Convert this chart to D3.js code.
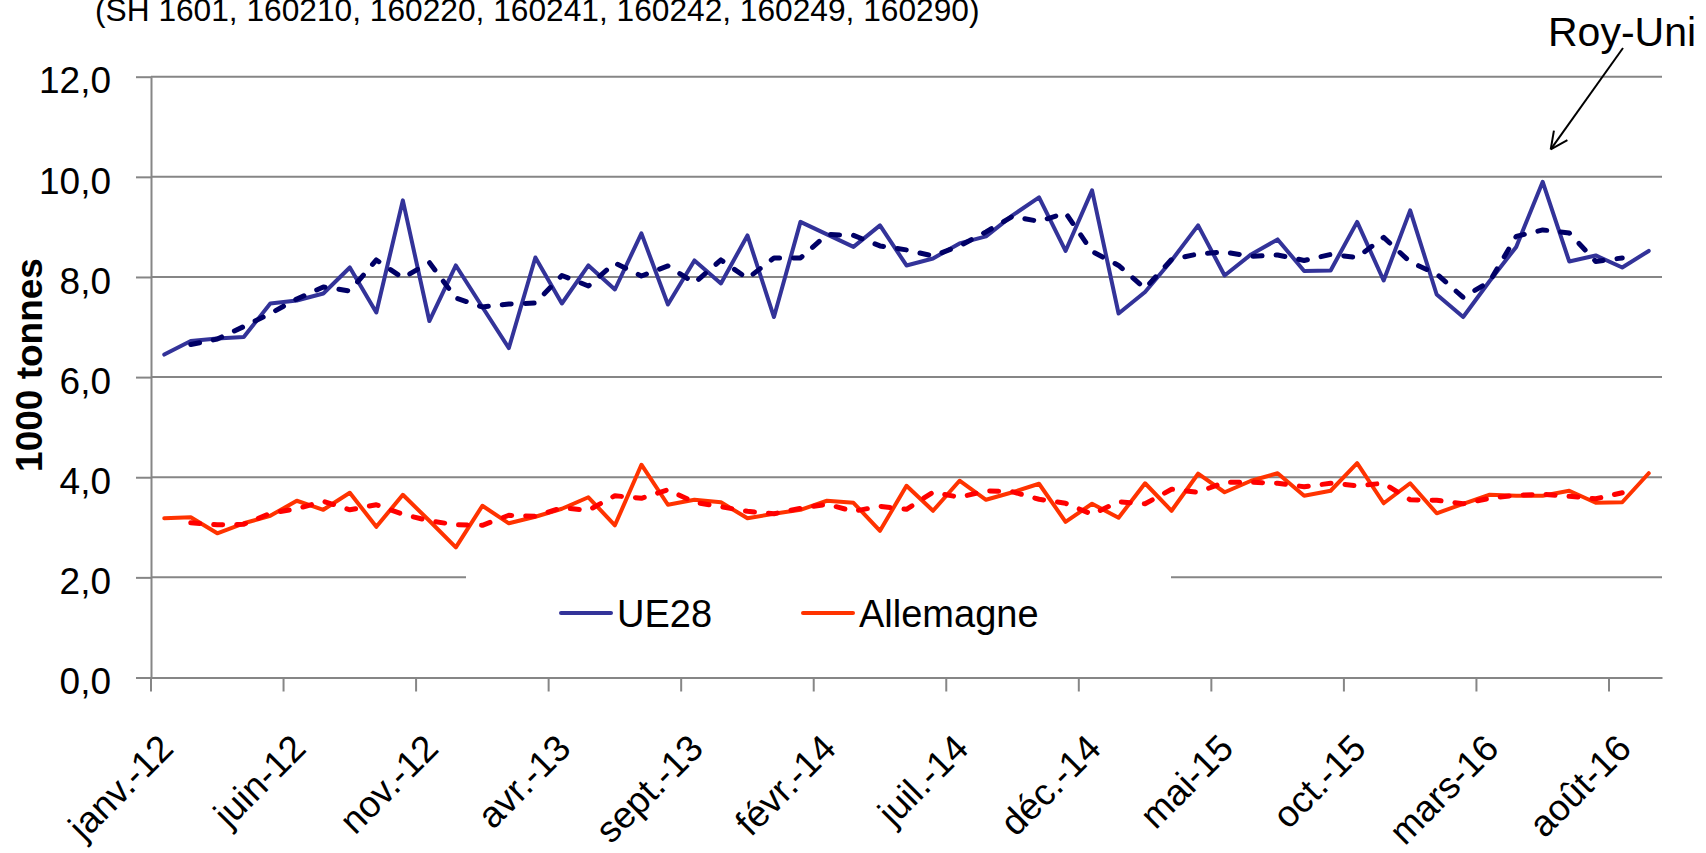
<!DOCTYPE html>
<html>
<head>
  <meta charset="utf-8">
  <title>UE28 / Allemagne</title>
  <script src="https://d3js.org/d3.v7.min.js"></script>
<style>
    body { margin: 0; background: #fff; }
    text { font-family: "Liberation Sans", Arial, sans-serif; }
    </style>
  </head>
<body>
<div id="chart">
  <script>
// month names, the category axis runs janv.-12 .. sept.-16
var monthNames = ["janv.", "févr.", "mars", "avr.", "mai", "juin", "juil.", "août", "sept.", "oct.", "nov.", "déc."];
var years = ["12", "13", "14", "15", "16"];
var categories = [];
years.forEach(function(yy) {
  monthNames.forEach(function(m) {
    if (categories.length < 57) categories.push(m + "-" + yy);
  });
});

// tick labels shown every 5 months
var tickLabels = ["janv.-12", "juin-12", "nov.-12", "avr.-13", "sept.-13", "févr.-14",
                  "juil.-14", "déc.-14", "mai-15", "oct.-15", "mars-16", "août-16"];
var yTicks = [0, 2, 4, 6, 8, 10, 12];

// 1000 tonnes
var ue28 = [6.45, 6.72, 6.77, 6.80, 7.47, 7.53, 7.67, 8.19, 7.29, 9.53,
            7.12, 8.23, 7.40, 6.58, 8.39, 7.47, 8.23, 7.75, 8.87, 7.45,
            8.33, 7.87, 8.83, 7.20, 9.10, 8.85, 8.60, 9.03, 8.23, 8.37,
            8.67, 8.81, 9.23, 9.59, 8.52, 9.73, 7.27, 7.70, 8.33, 9.03,
            8.03, 8.45, 8.75, 8.12, 8.13, 9.10, 7.93, 9.33, 7.65, 7.20,
            7.92, 8.60, 9.90, 8.31, 8.43, 8.19, 8.52];

var ue28Trend = [null, 6.65, 6.76, 7.01, 7.27, 7.56, 7.80, 7.72, 8.34, 7.98,
                 8.29, 7.58, 7.40, 7.46, 7.48, 8.03, 7.82, 8.28, 8.02, 8.22,
                 7.88, 8.34, 7.97, 8.38, 8.38, 8.85, 8.83, 8.62, 8.54, 8.42,
                 8.62, 8.90, 9.21, 9.11, 9.28, 8.51, 8.23, 7.77, 8.35, 8.46,
                 8.50, 8.41, 8.44, 8.33, 8.45, 8.39, 8.79, 8.30, 8.06, 7.59,
                 7.91, 8.81, 8.94, 8.88, 8.31, 8.38, null];

var allemagne = [3.18, 3.20, 2.88, 3.08, 3.23, 3.53, 3.35, 3.69, 3.01, 3.65,
                 3.13, 2.60, 3.43, 3.08, 3.21, 3.37, 3.60, 3.04, 4.25, 3.45,
                 3.55, 3.50, 3.18, 3.27, 3.35, 3.53, 3.49, 2.93, 3.83, 3.33,
                 3.93, 3.55, 3.70, 3.87, 3.11, 3.47, 3.19, 3.88, 3.33, 4.07,
                 3.70, 3.93, 4.08, 3.63, 3.73, 4.28, 3.48, 3.88, 3.28, 3.47,
                 3.65, 3.63, 3.63, 3.73, 3.49, 3.50, 4.08];

var allemagneTrend = [null, 3.09, 3.05, 3.06, 3.28, 3.37, 3.52, 3.35, 3.45, 3.26,
                      3.13, 3.05, 3.04, 3.24, 3.22, 3.39, 3.34, 3.63, 3.58, 3.75,
                      3.50, 3.41, 3.32, 3.27, 3.38, 3.46, 3.32, 3.42, 3.36, 3.70,
                      3.60, 3.73, 3.71, 3.56, 3.48, 3.26, 3.51, 3.47, 3.76, 3.70,
                      3.90, 3.90, 3.88, 3.81, 3.88, 3.83, 3.88, 3.55, 3.54, 3.47,
                      3.58, 3.64, 3.66, 3.62, 3.57, 3.69, null];

var width = 1706, height = 853;
var plotLeft = 151, plotRight = 1662, plotTop = 76.7, plotBottom = 677.5;

var svg = d3.select("div#chart")
  .append("svg")
    .attr("width", width)
    .attr("height", height);

var x = d3.scaleBand()
  .domain(categories)
  .range([plotLeft, plotRight])
  .padding(0);
var bw = x.bandwidth();

var y = d3.scaleLinear()
  .domain([0, 12])
  .range([plotBottom, plotTop]);

var frFormat = d3.formatLocale({decimal: ",", thousands: " ", grouping: [3], currency: ["", " €"]}).format(".1f");

// title (cut off at the top in the original)
svg.append("text")
  .attr("x", 95)
  .attr("y", 21)
  .style("font-size", "31.7px")
  .text("(SH 1601, 160210, 160220, 160241, 160242, 160249, 160290)");

// gridlines
svg.append("g")
  .selectAll("line")
  .data(yTicks.filter(function(d) { return d > 0; }))
  .enter()
  .append("line")
    .attr("x1", plotLeft)
    .attr("x2", plotRight)
    .attr("y1", function(d) { return y(d); })
    .attr("y2", function(d) { return y(d); })
    .attr("stroke", "#868686")
    .attr("stroke-width", 2);

// y axis
var yAxis = svg.append("g")
  .attr("transform", "translate(" + plotLeft + ",0)")
  .call(d3.axisLeft(y).tickValues(yTicks).tickSize(15).tickSizeOuter(0).tickPadding(25).tickFormat(frFormat));
yAxis.select(".domain").attr("stroke", "#868686").attr("stroke-width", 2);
yAxis.selectAll(".tick line").attr("stroke", "#868686").attr("stroke-width", 2);
yAxis.selectAll("text")
  .attr("dy", "0.44em")
  .attr("fill", "#000")
  .style("font-size", "37px");

// x axis, ticks on the band edges
var xAxis = svg.append("g")
  .attr("transform", "translate(0," + plotBottom + ")")
  .call(d3.axisBottom(x)
    .tickValues(categories.filter(function(d, i) { return i % 5 === 0; }))
    .tickSize(14).tickSizeOuter(0)
    .tickFormat(function(d, i) { return tickLabels[i]; }));
xAxis.select(".domain").attr("stroke", "#868686").attr("stroke-width", 2);
xAxis.selectAll(".tick line")
  .attr("x1", -bw / 2).attr("x2", -bw / 2)
  .attr("stroke", "#868686").attr("stroke-width", 2);
xAxis.selectAll(".tick text")
  .attr("x", 0).attr("y", 0).attr("dy", null)
  .attr("transform", "translate(11,73) rotate(-45)")
  .attr("fill", "#000")
  .style("text-anchor", "end")
  .style("font-size", "37px");

// y axis title
svg.append("text")
  .attr("transform", "translate(42,365) rotate(-90)")
  .style("text-anchor", "middle")
  .style("font-size", "37px")
  .style("font-weight", "bold")
  .text("1000 tonnes");

// legend box hides the 2,0 gridline
svg.append("rect")
  .attr("x", 466).attr("y", 548)
  .attr("width", 705).attr("height", 110)
  .attr("fill", "#fff");

var legend = [
  {name: "UE28", color: "#333399", x: 561},
  {name: "Allemagne", color: "#FF3300", x: 803}
];
legend.forEach(function(l) {
  svg.append("line")
    .attr("x1", l.x).attr("x2", l.x + 50)
    .attr("y1", 613).attr("y2", 613)
    .attr("stroke", l.color).attr("stroke-width", 4)
    .attr("stroke-linecap", "round");
  svg.append("text")
    .attr("x", l.x + 56).attr("y", 627)
    .style("font-size", "38px")
    .text(l.name);
});

// lines
var line = d3.line()
  .defined(function(d) { return d != null; })
  .x(function(d, i) { return x(categories[i]) + bw / 2; })
  .y(function(d) { return y(d); });

function drawSeries(values, color, w, dash) {
  svg.append("path")
    .datum(values)
    .attr("fill", "none")
    .attr("stroke", color)
    .attr("stroke-width", w)
    .attr("stroke-linejoin", "round")
    .attr("stroke-linecap", "round")
    .attr("stroke-dasharray", dash)
    .attr("d", line);
}

drawSeries(ue28, "#333399", 4, null);
drawSeries(allemagne, "#FF3300", 4, null);
drawSeries(ue28Trend, "#000066", 5, "9,14");
drawSeries(allemagneTrend, "#FF0000", 5, "9,14");

// annotation Roy-Uni
svg.append("text")
  .attr("x", 1548).attr("y", 46)
  .style("font-size", "41px")
  .text("Roy-Uni");

var tipX = x(categories[52]) + bw / 2 + 8, tipY = y(10.55);
var startX = 1623, startY = 48;
svg.append("line")
  .attr("x1", startX).attr("y1", startY)
  .attr("x2", tipX).attr("y2", tipY)
  .attr("stroke", "#000").attr("stroke-width", 2);
var ang = Math.atan2(startY - tipY, startX - tipX);
[-0.45, 0.45].forEach(function(a) {
  svg.append("line")
    .attr("x1", tipX).attr("y1", tipY)
    .attr("x2", tipX + 19 * Math.cos(ang + a))
    .attr("y2", tipY + 19 * Math.sin(ang + a))
    .attr("stroke", "#000").attr("stroke-width", 2);
});
  </script>
</div>
 </body>
</html>
